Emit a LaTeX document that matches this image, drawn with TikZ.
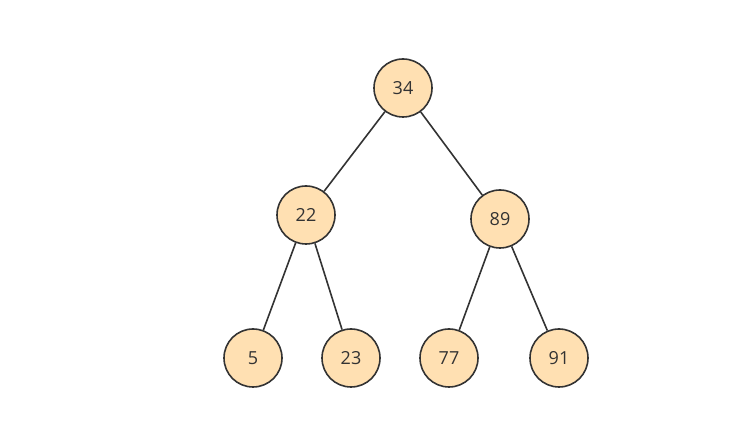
\documentclass[tikz,border=0pt]{standalone}
\usepackage{fontspec}
\setmainfont{Open Sans}
\usepackage{tikz}
\definecolor{nodefill}{HTML}{FFE0B2}
\definecolor{nodeline}{HTML}{333333}

\begin{document}
\begin{tikzpicture}[
                x=1pt, y=-1pt,
                heapnode/.style={circle, draw=nodeline, fill=nodefill, line width=1.6pt, minimum size=58pt, inner sep=0pt, font=\fontsize{18}{20}\selectfont, text=nodeline},
                link/.style={draw=nodeline, line width=1.6pt}
            ]
                \useasboundingbox (0,0) rectangle (748,430);

                % Heap nodes
                \node[heapnode] (N34) at (403,88) {34};
                \node[heapnode] (N22) at (306,215) {22};
                \node[heapnode] (N89) at (500,219) {89};
                \node[heapnode] (N5) at (253,358) {5};
                \node[heapnode] (N23) at (351,358) {23};
                \node[heapnode] (N77) at (449,358) {77};
                \node[heapnode] (N91) at (559,358) {91};

                % Edges
                \path[link]
                    (N34) edge (N22)
                    (N34) edge (N89)
                    (N22) edge (N5)
                    (N22) edge (N23)
                    (N89) edge (N77)
                    (N89) edge (N91);
            \end{tikzpicture}
\end{document}
